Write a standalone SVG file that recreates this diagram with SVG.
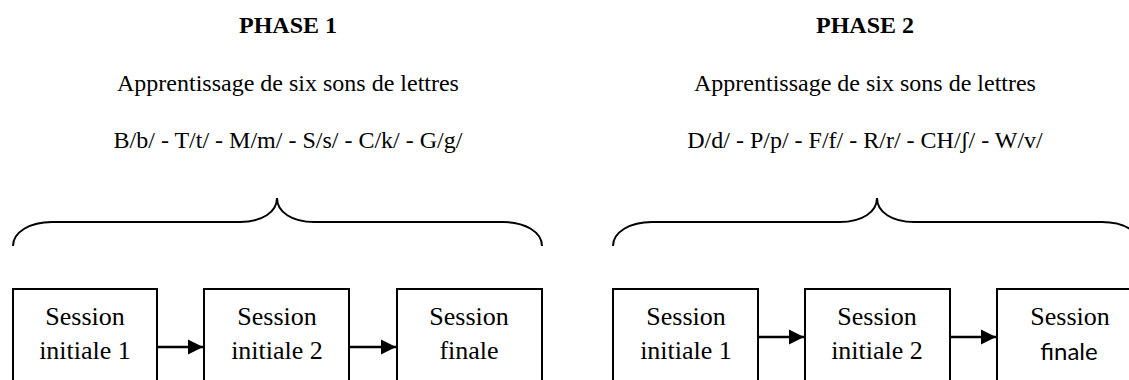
<svg xmlns="http://www.w3.org/2000/svg" width="1129" height="380" viewBox="0 0 1129 380">
<defs>
<style>
.t{font-family:"Liberation Serif","Times New Roman",serif;font-size:24px;fill:#000;text-anchor:middle}
.b{font-weight:bold}
.bx{font-family:"Liberation Serif","Times New Roman",serif;font-size:26px;fill:#000;text-anchor:middle}
.sans{font-family:"Lato","Liberation Sans",sans-serif;font-size:24px}
.box{fill:#fff;stroke:#000;stroke-width:2}
.brace{fill:none;stroke:#000;stroke-width:2}
.conn{stroke:#000;stroke-width:2.6;fill:none}
</style>
<marker id="ah" viewBox="0 0 10 10" refX="10" refY="5" markerWidth="5.8" markerHeight="5.8" markerUnits="strokeWidth" orient="auto">
<path d="M0,0 L10,5 L0,10 Z" fill="#000"/>
</marker>
</defs>
<rect width="1129" height="380" fill="#fff"/>
<g id="phase1-header">
<text class="t b" x="288" y="33">PHASE 1</text>
<text class="t" x="288" y="91">Apprentissage de six sons de lettres</text>
<text class="t" x="288" y="148">B/b/ - T/t/ - M/m/ - S/s/ - C/k/ - G/g/</text>
</g>
<g id="phase2-header">
<text class="t b" x="865" y="33">PHASE 2</text>
<text class="t" x="865" y="91">Apprentissage de six sons de lettres</text>
<text class="t" x="865" y="148">D/d/ - P/p/ - F/f/ - R/r/ - CH/ʃ/ - W/v/</text>
</g>
<g id="brace1"><path class="brace" d="M13,246 C13,232 30,222 52,222 L240,222 C262,222 277,212 277,198 C277,212 292,222 314,222 L503,222 C525,222 542,232 542,246"/></g>
<g id="brace2"><path class="brace" d="M613,246 C613,232 630,222 652,222 L840,222 C862,222 877,212 877,198 C877,212 892,222 914,222 L1102,222 C1124,222 1141,232 1141,246"/></g>
<g id="p1-s1"><rect class="box" x="13" y="289" width="144" height="110"/><text class="bx" x="85" y="325">Session</text><text class="bx" x="85" y="359">initiale 1</text></g>
<g id="p1-s2"><rect class="box" x="204" y="289" width="145" height="110"/><text class="bx" x="277" y="325">Session</text><text class="bx" x="277" y="359">initiale 2</text></g>
<g id="p1-s3"><rect class="box" x="397" y="289" width="145" height="110"/><text class="bx" x="469" y="325">Session</text><text class="bx" x="469" y="359">finale</text></g>
<g id="p2-s1"><rect class="box" x="613" y="289" width="145" height="110"/><text class="bx" x="686" y="325">Session</text><text class="bx" x="686" y="359">initiale 1</text></g>
<g id="p2-s2"><rect class="box" x="805" y="289" width="145" height="110"/><text class="bx" x="877" y="325">Session</text><text class="bx" x="877" y="359">initiale 2</text></g>
<g id="p2-s3"><rect class="box" x="997" y="289" width="145" height="110"/><text class="bx" x="1070" y="325">Session</text><text class="bx sans" x="1069" y="360">finale</text></g>
<g id="connectors">
<line class="conn" x1="157" y1="347" x2="203" y2="347" marker-end="url(#ah)"/>
<line class="conn" x1="349" y1="347" x2="396" y2="347" marker-end="url(#ah)"/>
<line class="conn" x1="758" y1="337" x2="804" y2="337" marker-end="url(#ah)"/>
<line class="conn" x1="950" y1="337" x2="996" y2="337" marker-end="url(#ah)"/>
</g>
</svg>
